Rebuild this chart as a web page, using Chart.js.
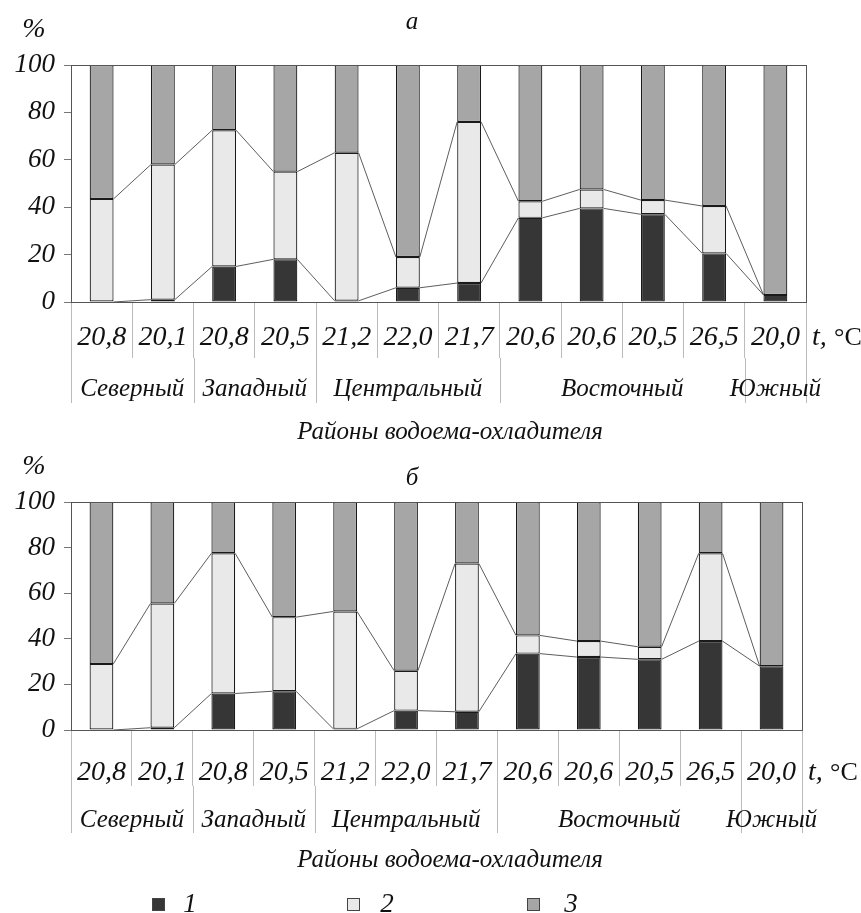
<!DOCTYPE html>
<html>
<head>
<meta charset="utf-8">
<script src="https://cdn.jsdelivr.net/npm/chart.js@4/dist/chart.umd.min.js"></script>
<style>
	body { margin: 0; background: #fff; }
	#wrap { position: relative; width: 861px; height: 913px; }
	canvas { position: absolute; left: 0; }
</style>
</head>
<body>
<div id="wrap">
	<canvas id="chartA" width="861" height="440" style="top:0"></canvas>
	<canvas id="chartB" width="861" height="473" style="top:440px"></canvas>
</div>
<script>
// temperature under each bar
var categories = ['20,8', '20,1', '20,8', '20,5', '21,2', '22,0', '21,7', '20,6', '20,6', '20,5', '26,5', '20,0'];
var regionNames = ['Северный', 'Западный', 'Центральный', 'Восточный', 'Южный'];
var regionSpans = [2, 2, 3, 4, 1];
var yTicks = [0, 20, 40, 60, 80, 100];
var seriesLabels = ['1', '2', '3'];

// panel a
var seriesA1 = [0, 1, 15, 18, 0.5, 6, 8, 35.5, 39.5, 37, 20.5, 3];
var seriesA2 = [43.5, 57, 57.5, 37, 62.5, 13, 68, 7, 8, 6, 20, 0];
var seriesA3 = [56.5, 42, 27.5, 45, 37, 81, 24, 57.5, 52.5, 57, 59.5, 97];

// panel б
var seriesB1 = [0, 1, 16, 17, 0.5, 8.5, 8, 33.5, 32, 31, 39, 28];
var seriesB2 = [29, 54.5, 61.5, 32.5, 51.5, 17.5, 65, 8, 7, 5.5, 38.5, 0];
var seriesB3 = [71, 44.5, 22.5, 50.5, 48, 74, 27, 58.5, 61, 63.5, 22.5, 72];

var colors = ['#363636', '#e9e9e9', '#a6a6a6'];
var serif = '"Liberation Serif", "DejaVu Serif", serif';

function makeDatasets(s1, s2, s3) {
	return [s1, s2, s3].map(function(d, i) {
		return {
			label: seriesLabels[i],
			data: d,
			backgroundColor: colors[i],
			borderColor: '#1a1a1a',
			borderWidth: 1.2,
			borderSkipped: false,
			barPercentage: 0.39,
			categoryPercentage: 1
		};
	});
}

// draws frame, series lines, temperature row, regions, titles
function extrasPlugin(cfg) {
	return {
		id: 'extras',
		afterDatasetsDraw: function(chart) {
			var ctx = chart.ctx;
			ctx.save();
			ctx.strokeStyle = '#333';
			ctx.lineWidth = 0.8;
			for (var d = 0; d < 2; d++) {
				var meta = chart.getDatasetMeta(d);
				for (var i = 0; i < meta.data.length - 1; i++) {
					var a = meta.data[i], b = meta.data[i + 1];
					ctx.beginPath();
					ctx.moveTo(a.x + a.width / 2, a.y);
					ctx.lineTo(b.x - b.width / 2, b.y);
					ctx.stroke();
				}
			}
			ctx.restore();
		},
		afterDraw: function(chart) {
			var ctx = chart.ctx;
			var area = chart.chartArea;
			var xs = chart.scales.x;
			var cw = (area.right - area.left) / categories.length;
			ctx.save();

			// frame
			ctx.strokeStyle = '#555';
			ctx.lineWidth = 1;
			ctx.strokeRect(area.left + 0.5, area.top + 0.5, area.right - area.left, area.bottom - area.top);

			// temperatures
			ctx.fillStyle = '#111';
			ctx.textAlign = 'center';
			ctx.textBaseline = 'middle';
			ctx.font = 'italic 28px ' + serif;
			categories.forEach(function(c, i) {
				ctx.fillText(c, xs.getPixelForValue(i), area.bottom + cfg.tempDy);
			});
			ctx.textAlign = 'left';
			ctx.fillText('t,', area.right + 6, area.bottom + cfg.tempDy);
			ctx.font = '26px ' + serif;
			ctx.fillText('°C', area.right + 28, area.bottom + cfg.tempDy);

			// regions
			ctx.strokeStyle = '#bbb';
			ctx.lineWidth = 1;
			ctx.font = 'italic 25px ' + serif;
			ctx.textAlign = 'center';
			var start = 0;
			regionNames.forEach(function(name, r) {
				var x0 = xs.getPixelForValue(start) - cw / 2;
				var x1 = xs.getPixelForValue(start + regionSpans[r] - 1) + cw / 2;
				[x0, x1].forEach(function(x) {
					ctx.beginPath();
					ctx.moveTo(Math.round(x) + 0.5, area.bottom + cfg.tickLen);
					ctx.lineTo(Math.round(x) + 0.5, area.bottom + cfg.regionEnd);
					ctx.stroke();
				});
				ctx.fillText(name, (x0 + x1) / 2, area.bottom + cfg.regionDy);
				start += regionSpans[r];
			});

			// axis title
			ctx.font = 'italic 25px ' + serif;
			ctx.fillText('Районы водоема-охладителя', 450, area.bottom + cfg.titleDy);

			// % and panel letter
			ctx.font = 'italic 28px ' + serif;
			ctx.fillText('%', 34, cfg.pctY);
			ctx.font = 'italic 25px ' + serif;
			ctx.fillText(cfg.letter, 412, cfg.letterY);

			// legend
			if (cfg.legend) {
				var lx = [152, 347, 527];
				var tx = [190, 387, 571];
				ctx.font = 'italic 27px ' + serif;
				ctx.textAlign = 'center';
				for (var k = 0; k < 3; k++) {
					ctx.fillStyle = colors[k];
					ctx.fillRect(lx[k], cfg.legendY - 7, 13, 13);
					ctx.strokeStyle = '#444';
					ctx.strokeRect(lx[k] + 0.5, cfg.legendY - 6.5, 12, 12);
					ctx.fillStyle = '#111';
					ctx.fillText(seriesLabels[k], tx[k], cfg.legendY);
				}
			}
			ctx.restore();
		}
	};
}

function buildChart(id, s1, s2, s3, cfg) {
	return new Chart(document.getElementById(id), {
		type: 'bar',
		data: {
			labels: categories,
			datasets: makeDatasets(s1, s2, s3)
		},
		options: {
			responsive: false,
			animation: false,
			devicePixelRatio: 1,
			layout: { padding: { left: 0, right: cfg.padRight, top: cfg.padTop, bottom: 0 } },
			plugins: { legend: { display: false }, tooltip: { enabled: false } },
			scales: {
				x: {
					stacked: true,
					ticks: { display: false },
					grid: { offset: true, drawOnChartArea: false, tickLength: cfg.tickLen, color: '#bbb' },
					border: { display: true, color: '#333' },
					afterFit: function(scale) { scale.height = cfg.xHeight; }
				},
				y: {
					stacked: true,
					min: 0,
					max: 100,
					afterBuildTicks: function(scale) {
						scale.ticks = yTicks.map(function(v) { return { value: v }; });
					},
					ticks: { color: '#111', padding: 9, font: { family: serif, size: 27, style: 'italic' } },
					grid: { drawOnChartArea: false, tickLength: 7, color: '#777' },
					border: { display: true, color: '#555' },
					afterFit: function(scale) { scale.width = 71; }
				}
			}
		},
		plugins: [extrasPlugin(cfg)]
	});
}

buildChart('chartA', seriesA1, seriesA2, seriesA3, {
	padTop: 65, padRight: 55, xHeight: 138, tickLen: 56,
	tempDy: 36, regionDy: 87, regionEnd: 101, titleDy: 130,
	pctY: 30, letter: 'а', letterY: 22, legend: false
});

buildChart('chartB', seriesB1, seriesB2, seriesB3, {
	padTop: 62, padRight: 59, xHeight: 183, tickLen: 56,
	tempDy: 43, regionDy: 90, regionEnd: 103, titleDy: 130,
	pctY: 27, letter: 'б', letterY: 38, legend: true, legendY: 465
});
</script>
</body>
</html>
